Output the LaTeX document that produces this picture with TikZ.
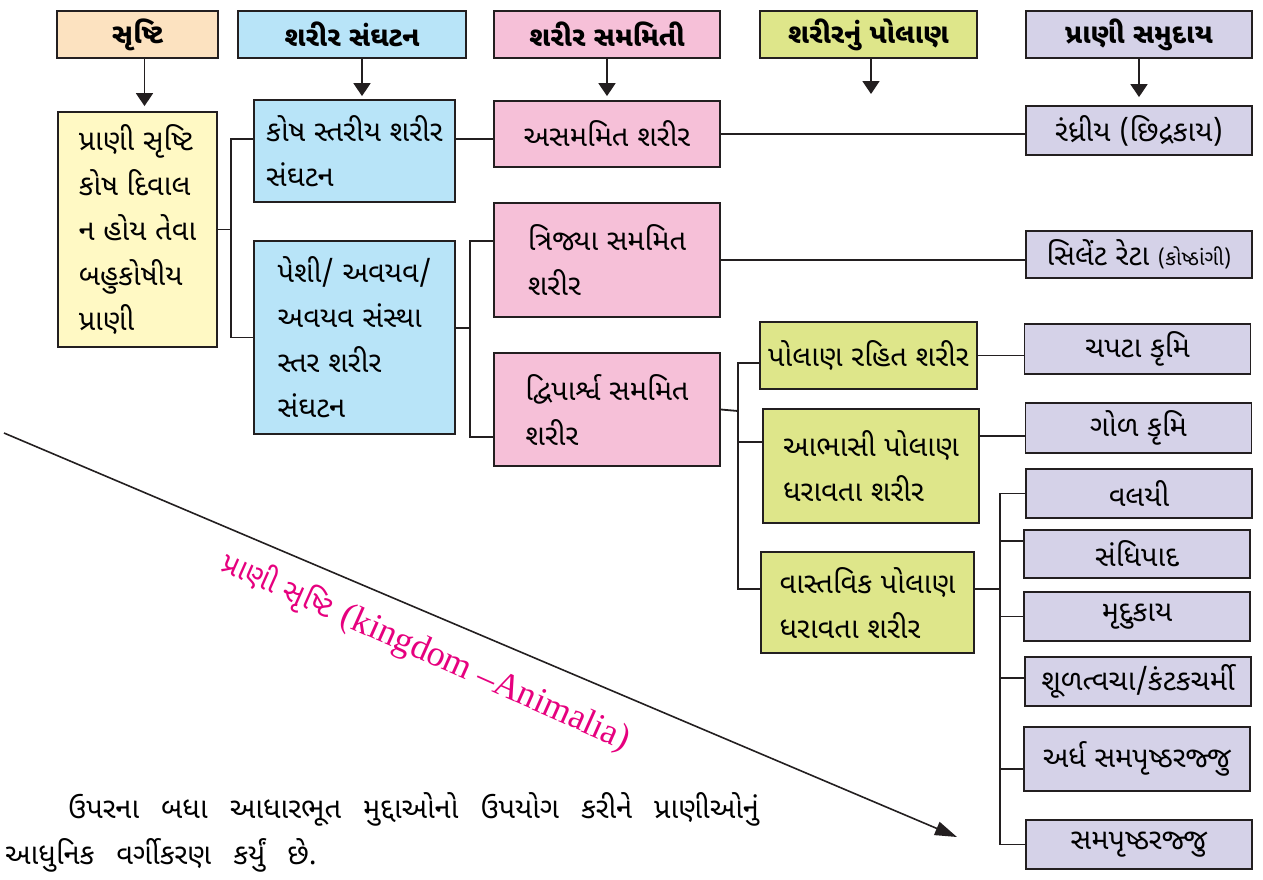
\documentclass[tikz,border=0pt]{standalone}
\usepackage{fontspec}
\newfontfamily\guj[Script=Gujarati]{Noto Sans Gujarati UI}
\newfontfamily\lser{Liberation Serif}
\usetikzlibrary{arrows.meta}
\definecolor{bordc}{RGB}{35,31,32}
\definecolor{peach}{RGB}{252,226,192}
\definecolor{lblue}{RGB}{184,228,248}
\definecolor{lpink}{RGB}{246,192,216}
\definecolor{lgreen}{RGB}{222,230,138}
\definecolor{lav}{RGB}{213,210,232}
\definecolor{lyel}{RGB}{255,249,196}
\definecolor{mag}{RGB}{230,0,126}
\newcommand\mywidesp{\spaceskip=22pt\relax}
\begin{document}
\begin{tikzpicture}[x=1pt,y=-1pt,
  box/.style={draw=bordc, line width=1.8pt, inner xsep=2pt, inner ysep=0pt,
    align=left, font=\guj\fontsize{29}{45}\selectfont},
  hbox/.style={box, align=center, minimum height=47, font=\guj\bfseries\fontsize{27.5}{45}\selectfont},
  ebox/.style={box, align=center, fill=lav, minimum width=226},
  conn/.style={draw=bordc, line width=1.8pt},
  harrow/.style={conn, -{Triangle[width=17pt,length=13pt]}},
  para/.style={anchor=base west, inner sep=0pt, font=\guj\fontsize{29}{45}\selectfont}]
\useasboundingbox (0,0) rectangle (1263,879);

% headers
\node[hbox, fill=peach, minimum width=161] (H1) at (137.5,34.5) {સૃષ્ટિ};
\node[hbox, fill=lblue, minimum width=228] (H2) at (352,34.5) {શરીર સંઘટન};
\node[hbox, fill=lpink, minimum width=226] (H3) at (607,34.5) {શરીર સમમિતી};
\node[hbox, fill=lgreen, minimum width=217] (H4) at (868.5,34.5) {શરીરનું પોલાણ};
\node[hbox, fill=lav, minimum width=226] (H5) at (1139,34.5) {પ્રાણી સમુદાય};

% column 1
\node[box, fill=lyel, minimum width=159, minimum height=235] (Y) at (137.5,229.5)
  {પ્રાણી સૃષ્ટિ\\કોષ દિવાલ\\ન હોય તેવા\\બહુકોષીય\\પ્રાણી};
% column 2
\node[box, fill=lblue, minimum width=201, minimum height=102] (B1) at (354.5,151)
  {કોષ સ્તરીય શરીર\\સંઘટન};
\node[box, fill=lblue, minimum width=201, minimum height=193] (B2) at (354.5,337.5)
  {પેશી/ અવયવ/\\અવયવ સંસ્થા\\સ્તર શરીર\\સંઘટન};
% column 3
\node[box, fill=lpink, minimum width=226, minimum height=66] (C1) at (607,134) {અસમમિત શરીર};
\node[box, fill=lpink, minimum width=226, minimum height=114] (C2) at (607,260) {ત્રિજ્યા સમમિત\\શરીર};
\node[box, fill=lpink, minimum width=226, minimum height=113] (C3) at (607,409.5) {દ્વિપાર્શ્વ સમમિત\\શરીર};
% column 4
\node[box, fill=lgreen, minimum width=217, minimum height=67] (D1) at (868.5,355.5) {પોલાણ રહિત શરીર};
\node[box, fill=lgreen, minimum width=216, minimum height=114] (D2) at (871,466) {આભાસી પોલાણ\\ધરાવતા શરીર};
\node[box, fill=lgreen, minimum width=213, minimum height=101] (D3) at (867.5,602.5) {વાસ્તવિક પોલાણ\\ધરાવતા શરીર};
% column 5
\node[ebox, minimum height=49] (E1) at (1139,130.5) {રંધ્રીય (છિદ્રકાય)};
\node[ebox, minimum height=47] (E2) at (1139,254.5) {સિલેંટ રેટા {\fontsize{21}{22}\selectfont(કોષ્ઠાંગી)}};
\node[ebox, minimum height=50] (E3) at (1137.5,349) {ચપટા કૃમિ};
\node[ebox, minimum height=50] (E4) at (1138.5,428) {ગોળ કૃમિ};
\node[ebox, minimum height=49] (E5) at (1139,493.5) {વલયી};
\node[ebox, minimum height=48] (E6) at (1137,554) {સંધિપાદ};
\node[ebox, minimum height=49] (E7) at (1137,616.5) {મૃદુકાય};
\node[ebox, minimum height=49] (E8) at (1138,681.5) {શૂળત્વચા/કંટકચર્મી};
\node[ebox, minimum height=64] (E9) at (1137,759) {અર્ધ સમપૃષ્ઠરજ્જુ};
\node[ebox, minimum height=49] (E10) at (1139,844.5) {સમપૃષ્ઠરજ્જુ};

% header arrows
\coordinate (h4end) at (871,94);
\draw[harrow, shorten >=5pt] ([xshift=7pt]H1.south) -- ([xshift=7pt]H1.south |- Y.north);
\draw[harrow, shorten >=3pt] ([xshift=10pt]H2.south) -- ([xshift=10pt]H2.south |- B1.north);
\draw[harrow, shorten >=4pt] (H3.south) -- (H3.south |- C1.north);
\draw[harrow] ([xshift=2.5pt]H4.south) -- (h4end);
\draw[harrow, shorten >=8pt] (H5.south) -- (H5.south |- E1.north);

% junctions
\coordinate (j1) at (231,229.5);
\coordinate (j2) at (470,328);
\coordinate (j3) at (738,411);
\coordinate (j4) at (1000,589);

\draw[conn] (Y.east) -- (j1);
\draw[conn] ([yshift=12pt]B1.west) -| (j1) |- (B2.west);
\draw[conn] ([yshift=12pt]B1.east) -- ([yshift=12pt]B1.east -| C1.west);
\draw[conn] ([yshift=9.5pt]B2.east) -- (j2);
\draw[conn] ([yshift=19pt]C2.west) -| (j2) |- ([yshift=-27.5pt]C3.west);
\draw[conn] (C1.east) -- (C1.east -| E1.west);
\draw[conn] (C2.east) -- (C2.east -| E2.west);
\draw[conn] (C3.east) -- (j3);
\draw[conn] ([yshift=-7.5pt]D1.west) -| (j3) |- ([yshift=13.5pt]D3.west);
\draw[conn] (j3) |- ([yshift=24pt]D2.west);
\draw[conn] (D1.east) -- (D1.east -| E3.west);
\draw[conn] ([yshift=30pt]D2.east) -- ([yshift=30pt]D2.east -| E4.west);
\draw[conn] ([yshift=13.5pt]D3.east) -- (j4);
\draw[conn] (E5.west) -| (j4) |- (E10.west);
\draw[conn] (j4) |- ([yshift=13pt]E6.west);
\draw[conn] (j4) |- (E7.west);
\draw[conn] (j4) |- ([yshift=3.5pt]E8.west);
\draw[conn] (j4) |- ([yshift=-10pt]E9.west);

% diagonal
\coordinate (d1) at (4,433);
\coordinate (d2) at (957,837);
\draw[conn, line width=1.6pt, -{Triangle[width=14pt,length=22pt]}] (d1) -- (d2);
\node[rotate=-24, text=mag, inner sep=0pt] (lbl) at (426,652)
  {{\guj\fontsize{30}{30}\selectfont પ્રાણી સૃષ્ટિ}\hspace{12pt}{\lser\fontsize{36}{36}\selectfont(kingdom –Animalia)}};

% bottom text
\node[para] (t1) at (68,818) {\mywidesp ઉપરના બધા આધારભૂત મુદ્દાઓનો ઉપયોગ કરીને પ્રાણીઓનું};
\node[para] (t2) at (5,864) {\mywidesp આધુનિક વર્ગીકરણ કર્યું છે.};
\end{tikzpicture}
\end{document}
